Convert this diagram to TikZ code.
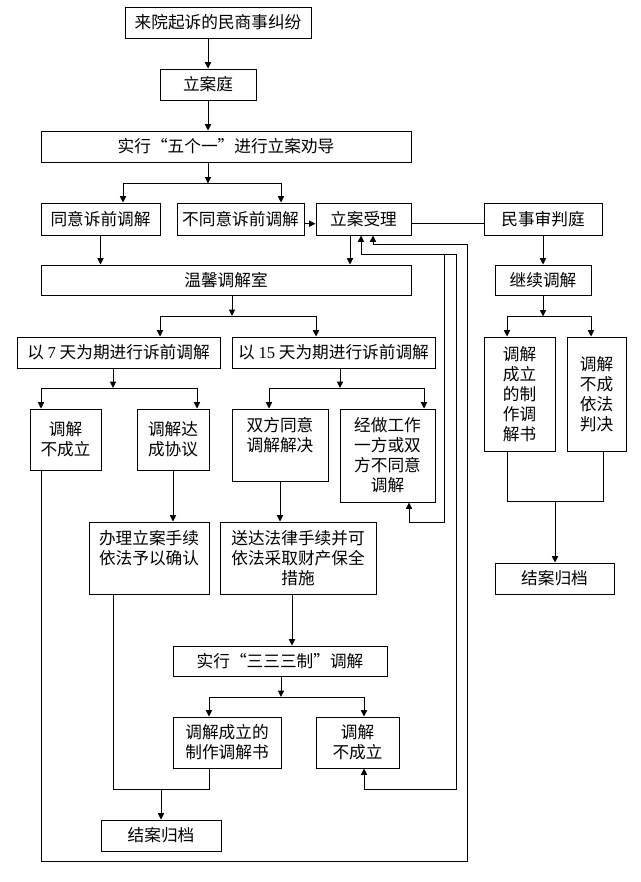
\documentclass[tikz,border=0pt]{standalone}
\usepackage{fontspec}
\setmainfont{Liberation Serif}
\newfontfamily\cjk{Noto Sans CJK SC}
\usetikzlibrary{arrows.meta}
\tikzset{
  box/.style={draw, inner sep=0pt, align=center, font=\cjk\fontsize{12.5pt}{15pt}\selectfont},
  sz/.style 2 args={minimum width=#1*0.75pt, minimum height=#2*0.75pt},
  >={Triangle[length=4.8pt,width=4.6pt]},
}
\begin{document}
\begin{tikzpicture}[x=0.75pt, y=-0.75pt, line width=0.7pt]
  \useasboundingbox (0,0) rectangle (640,882);
  % boxes
  \node[box, sz={186}{31}] (laiyuan) at (218,22.5) {来院起诉的民商事纠纷};
  \node[box, sz={96}{31}] (lianting) at (208,84.5) {立案庭};
  \node[box, sz={370}{31}] (wuge) at (226,146.5) {实行“五个一”进行立案劝导};
  \node[box, sz={119}{32}] (tongyi) at (100.5,219) {同意诉前调解};
  \node[box, sz={127}{32}] (butongyi) at (240.5,219) {不同意诉前调解};
  \node[box, sz={95}{32}] (lian) at (363.5,219) {立案受理};
  \node[box, sz={118}{32}] (minshi) at (543,219) {民事审判庭};
  \node[box, sz={370}{30}] (wenxin) at (226,280) {温馨调解室};
  \node[box, sz={96}{30}] (jixu) at (543,280) {继续调解};
  \node[box, sz={203}{31}] (qi) at (118.5,352.5) {以 {\rmfamily 7} 天为期进行诉前调解};
  \node[box, sz={203}{31}] (shiwu) at (333.5,352.5) {以 {\rmfamily 15} 天为期进行诉前调解};
  \node[box, sz={71}{114}] (chengli) at (519.5,394) {调解\\成立\\的制\\作调\\解书};
  \node[box, sz={59}{114}] (panjue) at (596.5,394) {调解\\不成\\依法\\判决};
  \node[box, sz={71}{61}] (bucheng) at (65.5,439.5) {调解\\不成立};
  \node[box, sz={72}{61}] (dacheng) at (173,439.5) {调解达\\成协议};
  \node[box, sz={96}{72}] (shuangfang) at (280,445) {双方同意\\调解解决\\\phantom{调}};
  \node[box, sz={95}{93}] (jingzuo) at (387.5,455.5) {经做工作\\一方或双\\方不同意\\调解};
  \node[box, sz={120}{72}] (banli) at (149,558) {办理立案手续\\依法予以确认\\\phantom{办}};
  \node[box, sz={156}{72}] (songda) at (298,558) {送达法律手续并可\\依法采取财产保全\\措施};
  \node[box, sz={119}{31}] (jiean2) at (554.5,578.5) {结案归档};
  \node[box, sz={214}{30}] (san) at (280,661) {实行“三三三制”调解};
  \node[box, sz={108}{51}] (chengli2) at (227,742.5) {调解成立的\\制作调解书};
  \node[box, sz={83}{51}] (bucheng2) at (357.5,742.5) {调解\\不成立};
  \node[box, sz={120}{31}] (jiean) at (161,835.5) {结案归档};
  % connectors
  \draw[->] (laiyuan.south -| lianting) -- (lianting);
  \draw[->] (lianting) -- (wuge.north -| lianting);
  \draw[->] (wuge.south -| lianting) -- ++(0,21) coordinate (b1);
  \draw[->] (b1) -| (123,0 |- tongyi.north);
  \draw[->] (b1) -| (281,0 |- butongyi.north);
  \draw[->] ([yshift=-3.5pt]butongyi.east) -- ([yshift=-3.5pt]lian.west);
  \draw ([yshift=-3.5pt]lian.east) -- ([yshift=-3.5pt]minshi.west);
  \draw[->] (tongyi) -- (tongyi |- wenxin.north);
  \draw[->] (350,0 |- lian.south) -- (350,0 |- wenxin.north);
  \draw[->] (minshi) -- (minshi |- jixu.north);
  \draw[->] (232,0 |- wenxin.south) -- (232,316) coordinate (b2);
  \draw[->] (b2) -| (160,0 |- qi.north);
  \draw[->] (b2) -| (316,0 |- shiwu.north);
  \draw[->] (jixu.south) -- ++(0,21) coordinate (b3);
  \draw[->] (b3) -| (507,0 |- chengli.north);
  \draw[->] (b3) -| (591,0 |- panjue.north);
  \draw[->] (113,0 |- qi.south) -- (113,388) coordinate (b4);
  \draw[->] (b4) -| (41,0 |- bucheng.north);
  \draw[->] (b4) -| (197,0 |- dacheng.north);
  \draw[->] (340,0 |- shiwu.south) -- (340,388) coordinate (b5);
  \draw[->] (b5) -| (269,0 |- shuangfang.north);
  \draw[->] (b5) -| (424,0 |- jingzuo.north);
  \draw[->] (dacheng) -- (dacheng |- banli.north);
  \draw[->] (shuangfang) -- (shuangfang |- songda.north);
  \draw[->] (292,0 |- songda.south) -- (292,0 |- san.north);
  \draw[->] (281,0 |- san.south) -- (281,697) coordinate (b6);
  \draw[->] (b6) -| (209,0 |- chengli2.north);
  \draw[->] (b6) -| (364,0 |- bucheng2.north);
  \draw (113,0 |- banli.south) |- (209,789) coordinate (m1) -- (209,0 |- chengli2.south);
  \draw[->] (jiean |- m1) -- (jiean);
  \draw (507,0 |- chengli.south) |- (603,501) coordinate (m2) -- (603,0 |- panjue.south);
  \draw[->] (555,0 |- m2) -- (555,0 |- jiean2.north);
  % back to 立案受理
  \draw[<->] (364,0 |- bucheng2.south) |- (456,789) |- (361,254) -- (361,0 |- lian.south);
  \draw[->] (444,254) |- (409,522) -- (409,0 |- jingzuo.south);
  \draw[->] (41,0 |- bucheng.south) |- (467,861) |- (373,244) -- (373,0 |- lian.south);
\end{tikzpicture}
\end{document}
